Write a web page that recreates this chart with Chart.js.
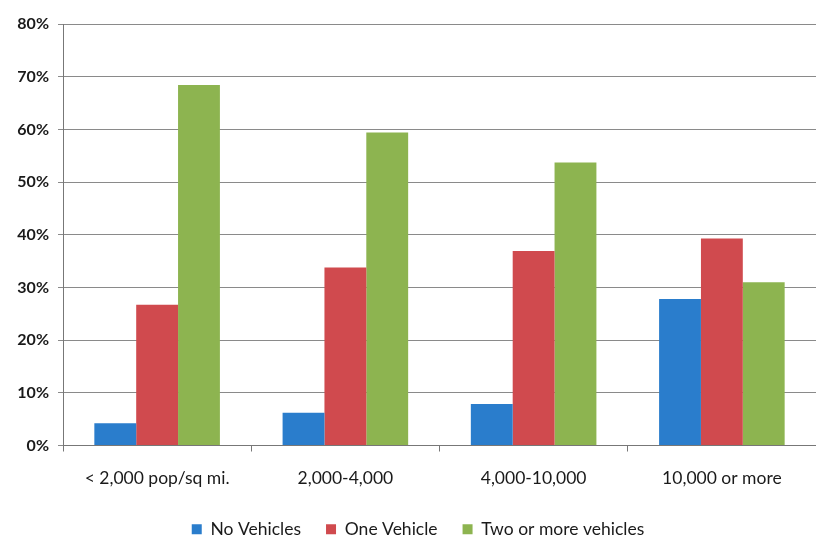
<!DOCTYPE html>
<html>
<head>
<meta charset="utf-8">
<script src="https://cdn.jsdelivr.net/npm/chart.js@4/dist/chart.umd.min.js"></script>
<style>
  html, body { margin: 0; padding: 0; background: #ffffff; }
  #wrap { width: 816px; height: 537px; }
</style>
</head>
<body>
<div id="wrap"><canvas id="chart" width="816" height="537"></canvas></div>
<script>
// Share of households by vehicle ownership, grouped by population density
const categories = ['< 2,000 pop/sq mi.', '2,000-4,000', '4,000-10,000', '10,000 or more'];
const seriesNames = ['No Vehicles', 'One Vehicle', 'Two or more vehicles'];
const noVehicles = [4.2, 6.2, 7.9, 27.8];
const oneVehicle = [26.7, 33.8, 36.9, 39.3];
const twoOrMore = [68.4, 59.4, 53.7, 31.0];
const yTicks = [0, 10, 20, 30, 40, 50, 60, 70, 80];

const colors = ['#2a7dcc', '#d04a4e', '#8db450'];
const values = [noVehicles, oneVehicle, twoOrMore];
const fontFamily = 'Lato, "Open Sans", sans-serif';

// nudge the legend a little to the right of the canvas centre
const legendShift = {
  id: 'legendShift',
  afterLayout(chart) {
    if (chart.legend) {
      chart.legend.left += 10;
      chart.legend.right += 10;
    }
  }
};

new Chart(document.getElementById('chart'), {
  type: 'bar',
  data: {
    labels: categories,
    datasets: seriesNames.map((name, i) => ({
      label: name,
      data: values[i],
      backgroundColor: colors[i],
      borderWidth: 0,
      categoryPercentage: 0.667,
      barPercentage: 1.0
    }))
  },
  options: {
    responsive: false,
    animation: false,
    layout: { padding: { top: 24, right: 0, bottom: -11, left: 0 } },
    scales: {
      x: {
        offset: true,
        // tighten the gap between the category labels and the legend
        afterFit: (axis) => { axis.height -= 9; },
        grid: {
          offset: true,
          drawOnChartArea: false,
          drawTicks: true,
          tickLength: 6,
          color: '#777777'
        },
        border: { color: '#777777', width: 1 },
        ticks: {
          color: '#1a1a1a',
          font: { family: fontFamily, size: 17.5 },
          padding: 16,
          maxRotation: 0
        }
      },
      y: {
        min: 0,
        max: 80,
        afterBuildTicks: (axis) => { axis.ticks = yTicks.map(v => ({ value: v })); },
        afterFit: (axis) => { axis.width = 63; },
        grid: {
          color: '#8a8a8a',
          lineWidth: 1,
          drawTicks: true,
          tickLength: 5
        },
        border: { color: '#777777', width: 1 },
        ticks: {
          color: '#1a1a1a',
          font: { family: fontFamily, size: 16, weight: 'bold' },
          padding: 9,
          callback: (v) => v + '%'
        }
      }
    },
    plugins: {
      legend: {
        position: 'bottom',
        labels: {
          boxWidth: 10,
          boxHeight: 10,
          padding: 25,
          color: '#1a1a1a',
          font: { family: fontFamily, size: 17.5 }
        }
      },
      tooltip: { enabled: false }
    }
  },
  plugins: [legendShift]
});
</script>
</body>
</html>
